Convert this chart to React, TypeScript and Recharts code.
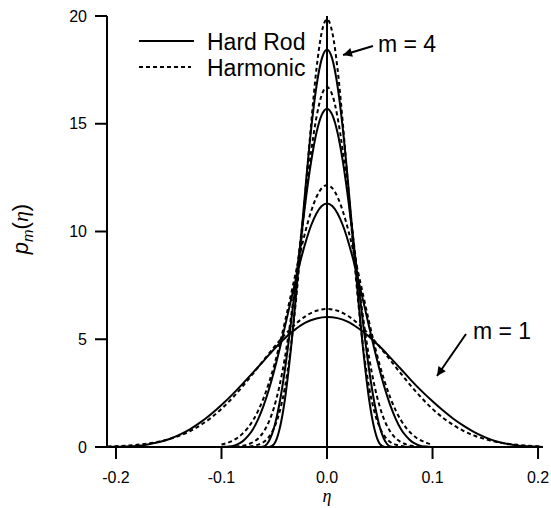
import { LineChart, Line, XAxis, YAxis, ReferenceLine } from 'recharts';

// eta grids (coarse one for m = 1, fine one for the narrow m = 2..4 curves)
const etaWide = [
  -0.208, -0.2, -0.19, -0.18, -0.17, -0.16, -0.15, -0.14, -0.13, -0.12, -0.11, -0.1, -0.09, -0.08, -0.07, -0.06,
  -0.05, -0.04, -0.03, -0.02, -0.01, 0, 0.01, 0.02, 0.03, 0.04, 0.05, 0.06, 0.07, 0.08, 0.09, 0.1, 0.11, 0.12,
  0.13, 0.14, 0.15, 0.16, 0.17, 0.18, 0.19, 0.2, 0.204,
];
const etaNarrow = [
  -0.1, -0.095, -0.09, -0.085, -0.08, -0.075, -0.07, -0.065, -0.06, -0.055, -0.05, -0.045, -0.04, -0.035, -0.03,
  -0.025, -0.02, -0.015, -0.01, -0.005, 0, 0.005, 0.01, 0.015, 0.02, 0.025, 0.03, 0.035, 0.04, 0.045, 0.05, 0.055,
  0.06, 0.065, 0.07, 0.075, 0.08, 0.085, 0.09, 0.095, 0.1,
];

// Hard Rod (solid)
const hardRod1 = [
  0, 0.01, 0.02, 0.05, 0.12, 0.22, 0.36, 0.56, 0.82, 1.14, 1.52, 1.95, 2.42, 2.93, 3.46, 4.0, 4.55, 5.05, 5.46, 5.78,
  5.96, 6.03, 5.98, 5.81, 5.5, 5.12, 4.66, 4.15, 3.62, 3.08, 2.58, 2.12, 1.69, 1.3, 0.97, 0.68, 0.45, 0.27, 0.15,
  0.07, 0.03, 0.01, 0,
];
const hardRod2 = [
  0, 0.01, 0.04, 0.12, 0.26, 0.5, 0.84, 1.32, 1.93, 2.68, 3.55, 4.52, 5.56, 6.63, 7.68, 8.67, 9.55, 10.29, 10.84,
  11.18, 11.3, 11.18, 10.84, 10.29, 9.55, 8.67, 7.68, 6.63, 5.56, 4.52, 3.55, 2.68, 1.93, 1.32, 0.84, 0.5, 0.26,
  0.12, 0.04, 0.01, 0,
];
const hardRod3 = [
  0, 0, 0, 0, 0, 0, 0, 0, 0.03, 0.28, 0.93, 2.03, 3.55, 5.41, 7.46, 9.55, 11.53, 13.25, 14.58, 15.41, 15.7, 15.41,
  14.58, 13.25, 11.53, 9.55, 7.46, 5.41, 3.55, 2.03, 0.93, 0.28, 0.03, 0, 0, 0, 0, 0, 0, 0, 0,
];
const hardRod4 = [
  0, 0, 0, 0, 0, 0, 0, 0, 0, 0, 0.15, 0.82, 2.17, 4.18, 6.69, 9.47, 12.25, 14.76, 16.74, 18.01, 18.45, 18.01, 16.74,
  14.76, 12.25, 9.47, 6.69, 4.18, 2.17, 0.82, 0.15, 0, 0, 0, 0, 0, 0, 0, 0, 0, 0,
];

// Harmonic (dashed)
const harmonic1 = [
  0.02, 0.04, 0.06, 0.1, 0.16, 0.24, 0.36, 0.52, 0.73, 1.01, 1.35, 1.77, 2.26, 2.81, 3.41, 4.03, 4.64, 5.21, 5.7,
  6.08, 6.32, 6.4, 6.32, 6.08, 5.7, 5.21, 4.64, 4.03, 3.41, 2.81, 2.26, 1.77, 1.35, 1.01, 0.73, 0.52, 0.36, 0.24,
  0.16, 0.1, 0.06, 0.04, 0.03,
];
const harmonic2 = [
  0.12, 0.18, 0.28, 0.42, 0.62, 0.89, 1.25, 1.71, 2.28, 2.98, 3.8, 4.74, 5.78, 6.88, 8.0, 9.09, 10.09, 10.94, 11.6,
  12.01, 12.15, 12.01, 11.6, 10.94, 10.09, 9.09, 8.0, 6.88, 5.78, 4.74, 3.8, 2.98, 2.28, 1.71, 1.25, 0.89, 0.62,
  0.42, 0.28, 0.18, 0.12,
];
const harmonic3 = [
  0, 0.01, 0.01, 0.03, 0.06, 0.12, 0.23, 0.41, 0.71, 1.18, 1.87, 2.84, 4.12, 5.72, 7.6, 9.66, 11.77, 13.72, 15.3,
  16.34, 16.7, 16.34, 15.3, 13.72, 11.77, 9.66, 7.6, 5.72, 4.12, 2.84, 1.87, 1.18, 0.71, 0.41, 0.23, 0.12, 0.06,
  0.03, 0.01, 0.01, 0,
];
const harmonic4 = [
  0, 0, 0, 0, 0.01, 0.02, 0.05, 0.11, 0.23, 0.47, 0.9, 1.62, 2.74, 4.36, 6.52, 9.16, 12.1, 15.02, 17.54, 19.24,
  19.85, 19.24, 17.54, 15.02, 12.1, 9.16, 6.52, 4.36, 2.74, 1.62, 0.9, 0.47, 0.23, 0.11, 0.05, 0.02, 0.01, 0, 0, 0, 0,
];

const xTicks = [-0.2, -0.1, 0, 0.1, 0.2];
const yTicks = [0, 5, 10, 15, 20];

const SANS = '"Liberation Sans", Arial, Helvetica, sans-serif';
const SERIF = '"Liberation Serif", "Times New Roman", serif';

const toPoints = (eta: number[], values: number[]) => eta.map((x, i) => ({ eta: x, p: values[i] }));

const series = [
  { id: 'hr1', eta: etaWide, values: hardRod1, dashed: false },
  { id: 'hr2', eta: etaNarrow, values: hardRod2, dashed: false },
  { id: 'hr3', eta: etaNarrow, values: hardRod3, dashed: false },
  { id: 'hr4', eta: etaNarrow, values: hardRod4, dashed: false },
  { id: 'ha1', eta: etaWide, values: harmonic1, dashed: true },
  { id: 'ha2', eta: etaNarrow, values: harmonic2, dashed: true },
  { id: 'ha3', eta: etaNarrow, values: harmonic3, dashed: true },
  { id: 'ha4', eta: etaNarrow, values: harmonic4, dashed: true },
];

const DASH = '4 3';

const App = () => {
  return (
    <div style={{ position: 'absolute', left: 0, top: 0, width: 551, height: 508, background: '#fff' }}>
      <LineChart width={551} height={508} margin={{ top: 16, right: 8, bottom: 21, left: 47 }}>
        <XAxis
          type="number"
          dataKey="eta"
          domain={[-0.2085, 0.2047]}
          ticks={xTicks}
          tickFormatter={(v: number) => v.toFixed(1)}
          height={40}
          tickSize={12}
          tickMargin={13}
          axisLine={{ stroke: '#000', strokeWidth: 2 }}
          tickLine={{ stroke: '#000', strokeWidth: 2 }}
          tick={{ fill: '#000', fontSize: 16, fontFamily: SANS }}
          allowDataOverflow
        />
        <YAxis
          type="number"
          domain={[0, 20]}
          ticks={yTicks}
          width={60}
          tickSize={12}
          tickMargin={8}
          axisLine={{ stroke: '#000', strokeWidth: 2 }}
          tickLine={{ stroke: '#000', strokeWidth: 2 }}
          tick={{ fill: '#000', fontSize: 16, fontFamily: SANS }}
          allowDataOverflow
        />
        <ReferenceLine x={0} stroke="#000" strokeWidth={2} ifOverflow="visible" />
        {series.map((s) => (
          <Line
            key={s.id}
            data={toPoints(s.eta, s.values)}
            dataKey="p"
            type="monotone"
            stroke="#000"
            strokeWidth={2}
            strokeDasharray={s.dashed ? DASH : undefined}
            dot={false}
            activeDot={false}
            isAnimationActive={false}
          />
        ))}
      </LineChart>

      <svg
        width={551}
        height={508}
        style={{ position: 'absolute', left: 0, top: 0, pointerEvents: 'none' }}
      >
        <defs>
          <marker id="arrow" viewBox="0 0 10 10" refX="10" refY="5" markerWidth="12" markerHeight="9" markerUnits="userSpaceOnUse" orient="auto">
            <path d="M0,0 L10,5 L0,10 z" fill="#000" />
          </marker>
        </defs>

        {/* legend */}
        <line x1={139} y1={41} x2={194} y2={41} stroke="#000" strokeWidth={2} />
        <line x1={139} y1={67} x2={191} y2={67} stroke="#000" strokeWidth={2} strokeDasharray={DASH} />
        <text x={207} y={49.5} fontSize={23} fontFamily={SANS} fill="#000">Hard Rod</text>
        <text x={207} y={76} fontSize={23} fontFamily={SANS} fill="#000">Harmonic</text>

        {/* annotations */}
        <text x={378} y={52} fontSize={23} fontFamily={SANS} fill="#000">m = 4</text>
        <line x1={373} y1={46} x2={343} y2={55} stroke="#000" strokeWidth={2} markerEnd="url(#arrow)" />
        <text x={473} y={339} fontSize={23} fontFamily={SANS} fill="#000">m = 1</text>
        <line x1={466} y1={334} x2={437} y2={376} stroke="#000" strokeWidth={2} markerEnd="url(#arrow)" />

        {/* axis titles */}
        <text x={327} y={502} fontSize={18} fontFamily={SERIF} fontStyle="italic" textAnchor="middle" fill="#000">η</text>
        <text transform="translate(28,229) rotate(-90)" textAnchor="middle" fontSize={22} fill="#000">
          <tspan fontFamily={SANS} fontStyle="italic">p</tspan>
          <tspan fontFamily={SANS} fontStyle="italic" fontSize={15} dy={5}>m</tspan>
          <tspan fontFamily={SANS} dy={-5}>(</tspan>
          <tspan fontFamily={SERIF} fontStyle="italic">η</tspan>
          <tspan fontFamily={SANS}>)</tspan>
        </text>
      </svg>
    </div>
  );
};

export default App;
